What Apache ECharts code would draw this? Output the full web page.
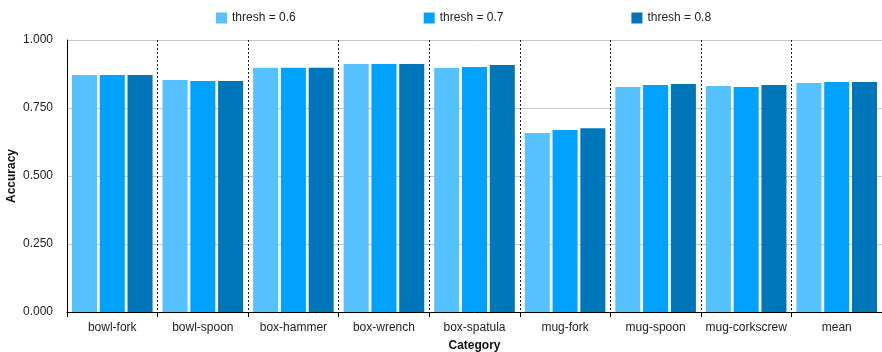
<!DOCTYPE html>
<html>
<head>
<meta charset="utf-8">
<script src="https://cdn.jsdelivr.net/npm/echarts@6/dist/echarts.min.js"></script>
<style>html,body{margin:0;padding:0;background:#fff}#c{width:882px;height:352px}</style>
</head>
<body>
<div id="c"></div>
<script>
const categories = ["bowl-fork","bowl-spoon","box-hammer","box-wrench","box-spatula","mug-fork","mug-spoon","mug-corkscrew","mean"];
const seriesNames = ["thresh = 0.6","thresh = 0.7","thresh = 0.8"];
const thresh06 = [0.871,0.853,0.898,0.912,0.897,0.658,0.827,0.831,0.842];
const thresh07 = [0.871,0.849,0.898,0.912,0.901,0.669,0.835,0.827,0.846];
const thresh08 = [0.871,0.849,0.898,0.912,0.908,0.676,0.838,0.835,0.846];
const yTicks = [0,0.25,0.5,0.75,1];
const colors = ["#56C1FF","#00A2FF","#0076BA"];
const font = "Helvetica, 'Liberation Sans', Arial, sans-serif";

const chart = echarts.init(document.getElementById('c'), null, {renderer:'canvas'});
const mk = (name, data, i) => ({
  name, type:'bar', data, itemStyle:{color:colors[i]},
  barGap:'11%', barCategoryGap:'11%'
});
chart.setOption({
  animation:false,
  textStyle:{fontFamily:font},
  legend:{
    top:7, left:211, itemWidth:11, itemHeight:11, itemGap:128,
    icon:'rect',
    textStyle:{fontSize:12, color:'#222', fontFamily:font},
    data:seriesNames
  },
  grid:{left:67, right:0, top:40, bottom:40, containLabel:false, outerBoundsMode:'none'},
  xAxis:{
    type:'category', data:categories,
    name:'Category', nameLocation:'middle', nameGap:28, nameMoveOverlap:false,
    nameTextStyle:{fontWeight:'bold', fontSize:12, color:'#111', fontFamily:font},
    axisLine:{lineStyle:{color:'#000', width:1}},
    axisTick:{show:true, length:5, interval:0, lineStyle:{color:'#000'}},
    axisLabel:{fontSize:12, color:'#222', margin:10, interval:0, fontFamily:font},
    splitLine:{show:true, interval:0, lineStyle:{color:'#222', type:[2,2], width:1}}
  },
  yAxis:{
    type:'value', min:yTicks[0], max:yTicks[yTicks.length-1], interval:0.25,
    name:'Accuracy', nameLocation:'middle', nameGap:55, nameMoveOverlap:false,
    nameTextStyle:{fontWeight:'bold', fontSize:12, color:'#111', fontFamily:font, verticalAlign:'middle'},
    axisLine:{show:true, lineStyle:{color:'#000', width:1}},
    axisTick:{show:false},
    axisLabel:{fontSize:12, color:'#222', margin:14, fontFamily:font, formatter:v=>v.toFixed(3)},
    splitLine:{show:true, lineStyle:{color:'#c8c8c8', width:1}}
  },
  series:[mk(seriesNames[0],thresh06,0), mk(seriesNames[1],thresh07,1), mk(seriesNames[2],thresh08,2)]
});
</script>
</body>
</html>
